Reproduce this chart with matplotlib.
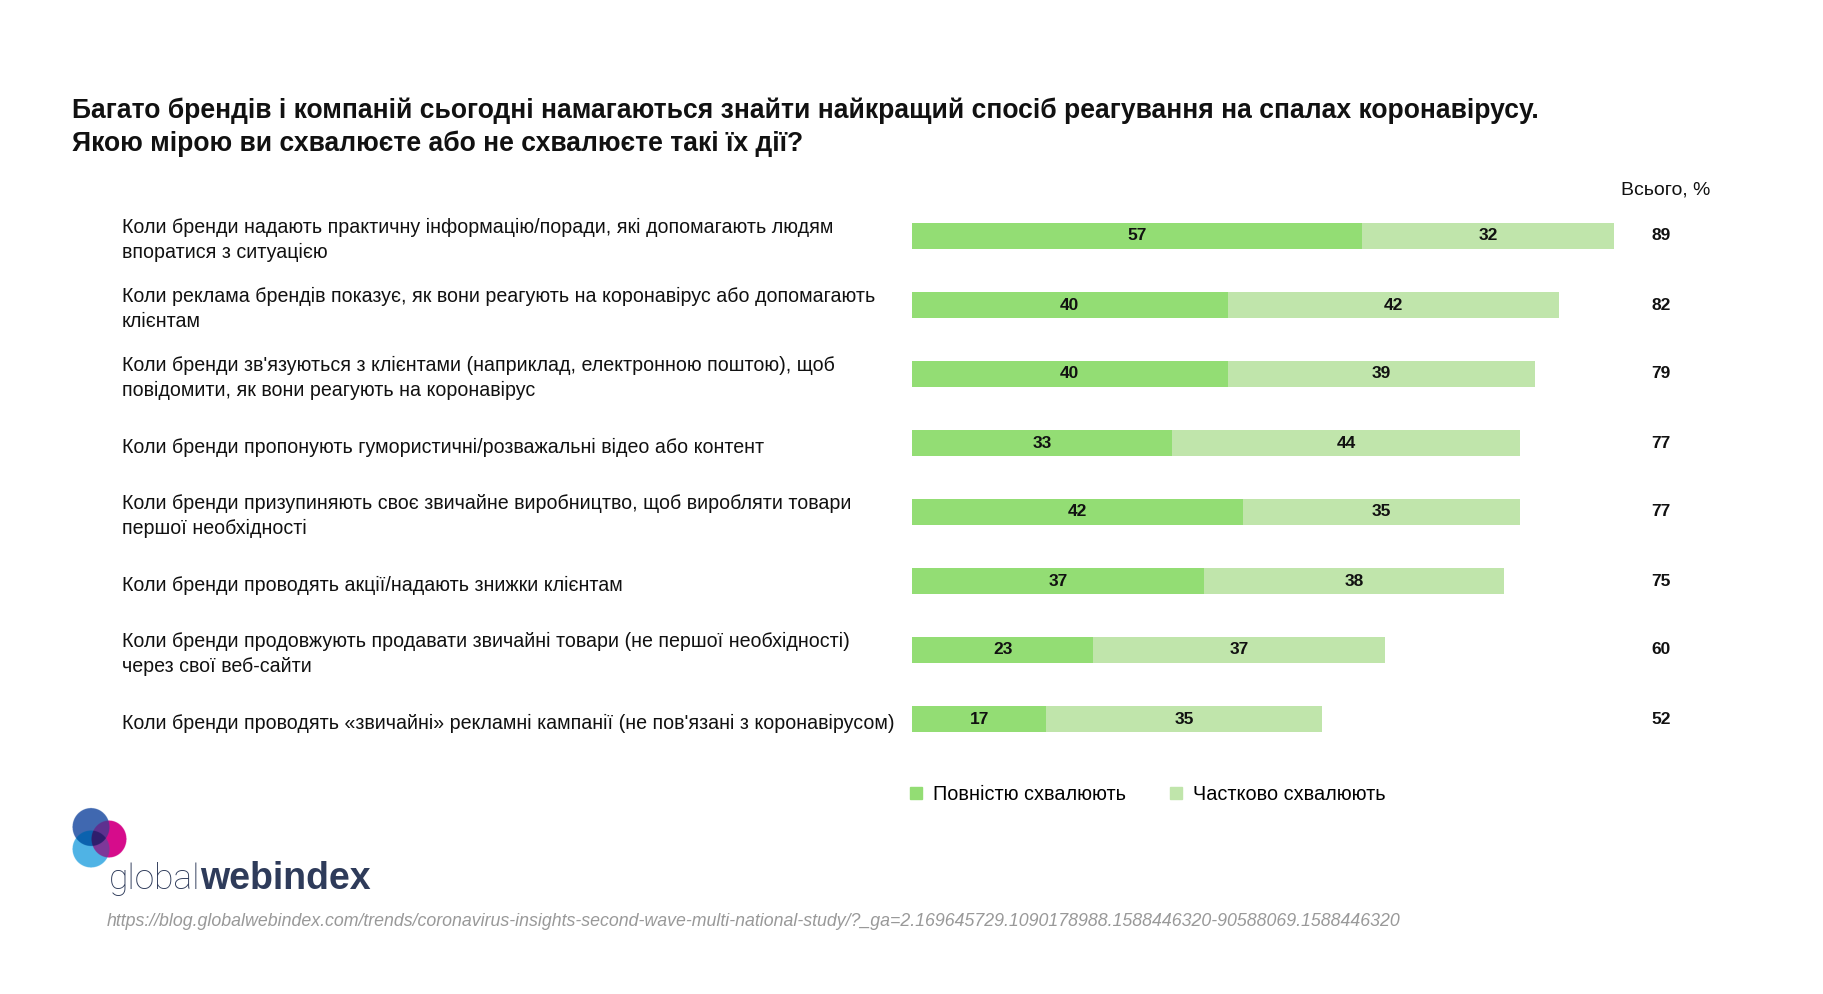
import matplotlib
matplotlib.use("Agg")
import numpy as np
import matplotlib.pyplot as plt
from matplotlib.lines import Line2D
import matplotlib.transforms as mtransforms

plt.rcParams['font.family'] = ['Liberation Sans', 'DejaVu Sans']

TITLE = ("Багато брендів і компаній сьогодні намагаються знайти найкращий спосіб реагування на спалах коронавірусу.\n"
         "Якою мірою ви схвалюєте або не схвалюєте такі їх дії?")

categories = [
    "Коли бренди надають практичну інформацію/поради, які допомагають людям\nвпоратися з ситуацією",
    "Коли реклама брендів показує, як вони реагують на коронавірус або допомагають\nклієнтам",
    "Коли бренди зв'язуються з клієнтами (наприклад, електронною поштою), щоб\nповідомити, як вони реагують на коронавірус",
    "Коли бренди пропонують гумористичні/розважальні відео або контент",
    "Коли бренди призупиняють своє звичайне виробництво, щоб виробляти товари\nпершої необхідності",
    "Коли бренди проводять акції/надають знижки клієнтам",
    "Коли бренди продовжують продавати звичайні товари (не першої необхідності)\nчерез свої веб-сайти",
    "Коли бренди проводять «звичайні» рекламні кампанії (не пов'язані з коронавірусом)",
]
fully = [57, 40, 40, 33, 42, 37, 23, 17]
partly = [32, 42, 39, 44, 35, 38, 37, 35]
totals = [89, 82, 79, 77, 77, 75, 60, 52]
series_names = ["Повністю схвалюють", "Частково схвалюють"]
total_header = "Всього, %"
source_url = ("https://blog.globalwebindex.com/trends/coronavirus-insights-second-wave-multi-national-study/"
              "?_ga=2.169645729.1090178988.1588446320-90588069.1588446320")

DARK = "#93dd74"
LIGHT = "#c0e5ab"
NAVY = "#2e3b5a"

W, H = 1824, 994
fig = plt.figure(figsize=(W / 100, H / 100), dpi=100)


def fx(px):
    return px / W


def fy(py):
    return 1 - py / H


# main bar axes
ax = fig.add_axes([fx(912), fy(753.5), fx(1701) - fx(912), (753.5 - 201.5) / H])
ypos = list(range(len(categories)))
ax.barh(ypos, fully, height=0.38, color=DARK, edgecolor='none')
ax.barh(ypos, partly, left=fully, height=0.38, color=LIGHT, edgecolor='none')
ax.set_xlim(0, 100)
ax.set_ylim(len(categories) - 0.5, -0.5)
ax.axis('off')

for i in ypos:
    ax.text(fully[i] / 2, i, str(fully[i]), ha='center', va='center',
            fontsize=12.5, fontweight='bold', color='#111111')
    ax.text(fully[i] + partly[i] / 2, i, str(partly[i]), ha='center', va='center',
            fontsize=12.5, fontweight='bold', color='#111111')

lbl_tr = mtransforms.blended_transform_factory(fig.transFigure, ax.transData)
lbl_tr_down = lbl_tr + mtransforms.ScaledTranslation(0, -4 / 100, fig.dpi_scale_trans)
for i, cat in enumerate(categories):
    ax.text(fx(122), i, cat, transform=lbl_tr_down, ha='left', va='center',
            fontsize=14.1, color='#111111', linespacing=1.38)
    ax.text(fx(1661), i, str(totals[i]), transform=lbl_tr, ha='center', va='center',
            fontsize=12.5, fontweight='bold', color='#111111')

fig.text(fx(1710), fy(190), total_header, ha='right', va='center', fontsize=14, color='#111111')

# title
fig.text(fx(72), fy(127), TITLE, ha='left', va='center', fontsize=19.1,
         fontweight='bold', color='#111111', linespacing=1.3)

# legend
handles = [Line2D([], [], marker='s', linestyle='none', markersize=8.5, color=c)
           for c in (DARK, LIGHT)]
fig.legend(handles, series_names, loc='center left', bbox_to_anchor=(fx(909), fy(794)),
           ncol=2, frameon=False, fontsize=14.3, handlelength=0.7, handletextpad=0.5,
           columnspacing=2.2, borderpad=0, borderaxespad=0)

# logo: three overlapping circles
lax = fig.add_axes([fx(60), fy(880), 80 / W, 80 / H])
lax.axis('off')
gx, gy = np.meshgrid(np.linspace(60, 140, 480), np.linspace(800, 880, 480))
in_blue = ((gx - 91) / 18.5) ** 2 + ((gy - 827) / 19) ** 2 <= 1
in_sky = ((gx - 91) / 18.5) ** 2 + ((gy - 849) / 18.5) ** 2 <= 1
in_mag = ((gx - 109) / 17.5) ** 2 + ((gy - 839) / 18.5) ** 2 <= 1
img = np.ones(gx.shape + (3,))
region_colors = [
    (in_blue & ~in_sky & ~in_mag, "#4169b0"),
    (in_sky & ~in_blue & ~in_mag, "#50b4e6"),
    (in_mag & ~in_blue & ~in_sky, "#d60d8c"),
    (in_blue & in_sky & ~in_mag, "#0b63ae"),
    (in_blue & in_mag & ~in_sky, "#5e3190"),
    (in_sky & in_mag & ~in_blue, "#7e3899"),
    (in_blue & in_sky & in_mag, "#2f1f6e"),
]
for mask, col in region_colors:
    img[mask] = matplotlib.colors.to_rgb(col)
lax.imshow(img, extent=(60, 140, 880, 800), interpolation='antialiased')
lax.set_xlim(60, 140)
lax.set_ylim(880, 800)

t_global = fig.text(fx(109), fy(889), "global", ha='left', va='baseline', fontsize=25.5,
                    family=['Roboto', 'DejaVu Sans'], fontweight=100, color=NAVY)
fig.canvas.draw()
bb = t_global.get_window_extent()
fig.text(bb.x1 / W, fy(889), "webindex", ha='left', va='baseline', fontsize=27,
         fontweight='bold', color=NAVY)

fig.text(fx(107), fy(921), source_url, ha='left', va='center', fontsize=12.75,
         style='italic', color='#999999')

fig.savefig("out.png", dpi=100, facecolor='white')
